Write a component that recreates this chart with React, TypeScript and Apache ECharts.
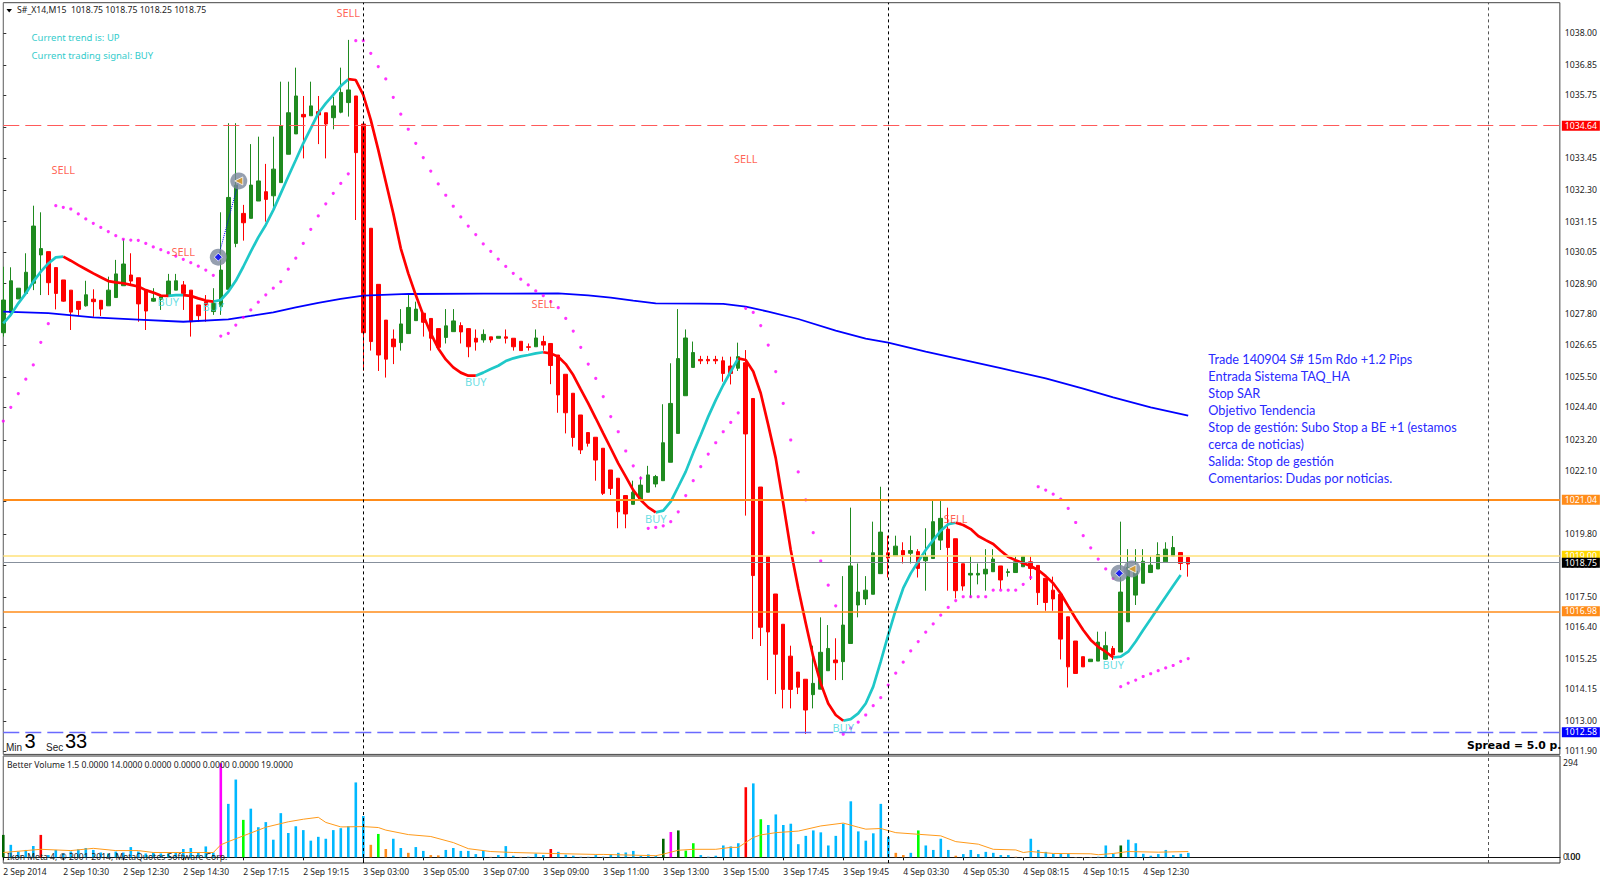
import React, { useEffect, useRef } from "react";
import * as echarts from "echarts";

const opens = [
  1027.11,1027.84,1028.34,1028.54,1028.91,1029.94,1030.06,1029.48,1029.03,1028.66,
  1028.25,1028.09,1028.33,1028.29,1028.09,1028.39,1028.82,1029.21,1029.11,1028.66,
  1028.26,1028.33,1028.48,1028.66,1028.85,1028.66,1028.12,1028.24,1027.88,1028.06,
  1028.69,1030.36,1031.45,1031.27,1031.90,1032.24,1032.09,1032.57,1033.60,1034.34,
  1035.05,1035.00,1035.15,1035.11,1034.93,1035.13,1035.48,1035.72,1034.70,1030.91,
  1028.87,1027.57,1026.88,1026.75,1027.08,1027.55,1027.82,1027.63,1027.26,1026.94,
  1027.15,1027.37,1027.26,1026.91,1026.85,1026.96,1026.91,1026.96,1026.91,1026.80,
  1026.60,1026.60,1026.79,1026.72,1026.30,1025.60,1024.91,1024.12,1023.48,1023.31,
  1022.91,1022.12,1021.82,1021.19,1020.87,1021.05,1021.31,1021.61,1021.73,1022.40,
  1023.45,1024.82,1025.85,1026.14,1026.14,1026.14,1026.09,1025.90,1025.82,1026.02,
  1024.72,1021.50,1018.97,1017.61,1016.51,1015.35,1014.77,1014.51,1013.95,1014.15,
  1014.82,1015.21,1015.15,1015.81,1017.21,1017.43,1017.60,1018.35,1019.11,1019.00,
  1019.19,1019.09,1019.15,1018.82,1018.90,1019.57,1019.97,1019.62,1018.71,1018.30,
  1018.30,1018.34,1018.42,1018.63,1018.39,1018.39,1018.60,1018.78,1018.65,1018.18,
  1017.75,1017.60,1016.78,1015.90,1015.33,1015.15,1015.17,1015.24,1015.63,1015.50,
  1016.60,1017.57,1018.00,1018.39,1018.52,1018.78,1018.99,1019.12,1018.94,
];
const closes = [
  1028.30,1029.00,1028.73,1029.31,1030.99,1030.17,1028.93,1028.54,1028.26,1027.86,
  1027.96,1028.49,1028.24,1027.97,1028.66,1029.25,1029.61,1028.99,1028.16,1027.90,
  1028.36,1028.42,1028.99,1029.00,1028.54,1027.51,1027.73,1028.12,1028.18,1029.39,
  1032.03,1032.48,1031.11,1032.48,1032.63,1031.96,1033.06,1034.63,1035.11,1035.72,
  1034.96,1035.36,1035.03,1034.70,1035.36,1035.85,1035.94,1033.66,1027.11,1026.79,
  1026.30,1026.15,1026.60,1027.43,1028.03,1027.97,1027.49,1026.91,1026.58,1027.36,
  1027.54,1027.14,1026.60,1026.77,1027.05,1026.85,1026.98,1026.91,1026.60,1026.46,
  1026.58,1026.92,1026.66,1025.92,1024.85,1024.20,1023.30,1022.85,1023.09,1022.48,
  1021.27,1021.45,1020.60,1020.52,1021.31,1021.57,1021.94,1021.88,1023.11,1024.54,
  1026.17,1026.92,1026.39,1026.09,1026.09,1026.09,1025.63,1025.63,1026.24,1023.43,
  1018.28,1016.40,1016.23,1015.42,1014.14,1014.14,1014.22,1013.39,1014.36,1015.49,
  1015.63,1015.11,1016.48,1018.63,1017.68,1017.75,1019.11,1019.86,1018.92,1019.35,
  1019.03,1019.19,1018.54,1018.97,1020.24,1020.36,1019.30,1017.73,1017.90,1018.36,
  1018.36,1018.51,1018.88,1018.12,1018.42,1018.78,1018.97,1018.54,1017.66,1017.30,
  1017.43,1015.97,1014.96,1014.72,1014.96,1015.24,1015.86,1015.73,1015.39,1017.68,
  1018.58,1018.44,1018.80,1018.66,1019.04,1019.24,1019.30,1018.72,1018.70,
];
const lows = [
  1026.97,1027.69,1028.34,1028.48,1028.66,1028.48,1028.48,1027.96,1028.24,1027.21,
  1027.72,1028.06,1027.69,1027.72,1028.09,1028.39,1028.82,1028.85,1027.51,1027.21,
  1028.24,1027.94,1028.42,1028.66,1027.94,1026.97,1027.51,1027.51,1027.76,1027.76,
  1028.66,1030.22,1030.46,1031.27,1031.90,1031.15,1031.69,1032.57,1033.60,1034.34,
  1033.45,1035.00,1033.97,1033.45,1034.51,1035.09,1034.97,1031.21,1025.73,1026.46,
  1025.72,1025.48,1025.97,1026.46,1027.08,1027.55,1026.97,1026.46,1026.48,1026.72,
  1027.15,1026.72,1026.22,1026.46,1026.75,1026.75,1026.91,1026.72,1026.46,1026.46,
  1026.46,1026.60,1026.46,1025.24,1024.20,1023.45,1022.97,1022.70,1022.97,1021.73,
  1021.21,1021.21,1020.00,1020.00,1020.87,1021.05,1021.31,1021.49,1021.73,1022.40,
  1023.45,1024.82,1025.85,1025.97,1025.97,1025.97,1025.33,1025.23,1025.72,1020.46,
  1015.97,1015.72,1014.48,1013.97,1013.45,1013.45,1013.97,1012.52,1013.45,1014.15,
  1014.82,1014.48,1014.48,1015.81,1016.76,1017.21,1017.60,1018.35,1018.21,1019.00,
  1018.72,1018.72,1018.21,1017.73,1018.90,1019.21,1017.73,1017.45,1017.73,1017.47,
  1017.96,1017.73,1018.42,1017.78,1018.24,1018.39,1018.60,1018.12,1017.21,1017.00,
  1017.00,1015.23,1014.21,1014.72,1014.96,1015.15,1015.17,1015.21,1015.21,1015.50,
  1016.60,1017.21,1018.00,1018.39,1018.52,1018.78,1018.99,1018.48,1018.24,
];
const highs = [
  1029.51,1029.49,1028.73,1030.00,1031.73,1031.49,1030.06,1029.48,1029.03,1028.66,
  1028.25,1029.00,1028.69,1028.29,1029.15,1029.76,1030.52,1030.00,1029.11,1028.66,
  1028.73,1028.48,1029.25,1029.25,1028.99,1028.66,1028.12,1028.48,1028.73,1031.49,
  1034.73,1034.73,1031.76,1033.97,1034.24,1033.25,1034.24,1036.24,1036.24,1036.75,
  1035.72,1036.24,1035.72,1035.11,1035.69,1036.75,1037.76,1035.72,1034.70,1030.91,
  1028.87,1027.57,1027.23,1027.97,1028.48,1028.24,1027.82,1027.63,1027.26,1027.97,
  1027.97,1027.49,1027.26,1027.23,1027.23,1026.96,1026.98,1027.23,1026.91,1026.80,
  1026.72,1027.23,1027.00,1026.72,1026.30,1025.60,1024.91,1024.12,1023.48,1023.31,
  1022.91,1022.12,1021.82,1021.19,1021.73,1021.88,1022.27,1021.94,1024.51,1026.00,
  1027.97,1027.23,1026.79,1026.27,1026.27,1026.27,1026.24,1026.24,1026.75,1026.48,
  1024.72,1021.50,1018.97,1017.61,1016.51,1015.73,1014.77,1014.51,1015.73,1016.76,
  1016.48,1016.00,1018.26,1020.75,1018.72,1018.26,1020.24,1021.51,1019.73,1019.73,
  1019.49,1019.73,1019.24,1020.00,1020.99,1020.99,1020.75,1019.62,1018.71,1018.97,
  1018.72,1019.24,1019.24,1018.63,1018.53,1018.97,1018.97,1018.97,1018.65,1018.18,
  1018.24,1017.60,1016.78,1015.90,1015.33,1015.24,1016.24,1016.24,1015.72,1020.24,
  1019.24,1019.24,1019.24,1018.97,1019.49,1019.49,1019.72,1019.12,1018.94,
];

const hullValues = [
  1027.45,1027.76,1028.18,1028.54,1028.97,1029.33,1029.63,1029.85,1029.88,1029.73,
  1029.57,1029.42,1029.27,1029.13,1028.99,1028.94,1028.91,1028.85,1028.79,1028.66,
  1028.57,1028.46,1028.45,1028.48,1028.48,1028.45,1028.36,1028.28,1028.24,1028.30,
  1028.60,1029.00,1029.51,1030.06,1030.58,1031.03,1031.57,1032.18,1032.79,1033.39,
  1034.00,1034.54,1035.09,1035.45,1035.76,1036.08,1036.33,1036.30,1035.76,1034.85,
  1033.76,1032.60,1031.45,1030.18,1029.27,1028.48,1027.75,1027.09,1026.54,1026.14,
  1025.85,1025.66,1025.55,1025.55,1025.66,1025.79,1025.91,1026.08,1026.18,1026.25,
  1026.30,1026.36,1026.40,1026.36,1026.24,1025.97,1025.57,1025.05,1024.54,1024.00,
  1023.45,1022.91,1022.36,1021.88,1021.39,1021.03,1020.76,1020.58,1020.64,1020.97,
  1021.51,1022.06,1022.75,1023.39,1024.06,1024.66,1025.21,1025.70,1026.18,1026.12,
  1025.70,1024.91,1023.76,1022.55,1020.91,1019.21,1017.82,1016.55,1015.33,1014.36,
  1013.63,1013.21,1013.00,1013.06,1013.27,1013.63,1014.24,1015.15,1016.12,1017.03,
  1017.82,1018.36,1018.79,1019.21,1019.57,1019.91,1020.15,1020.20,1020.12,1019.97,
  1019.72,1019.57,1019.43,1019.18,1018.96,1018.84,1018.73,1018.63,1018.48,1018.26,
  1018.00,1017.63,1017.17,1016.72,1016.30,1015.94,1015.69,1015.51,1015.30,1015.33,
  1015.51,1015.88,1016.30,1016.70,1017.11,1017.51,1017.91,1018.30,
];
const hullTurns = [8, 22, 24, 28, 46, 63, 72, 87, 98, 112, 127, 148];

const maBars = [0,6,12,18,24,30,33,36,39,42,45,48,54,64,74,78,81,84,87,93,96,99,102,106,111,115,118,123,128,133,139,144,148,153,158];
const maValues = [1027.88,1027.82,1027.67,1027.59,1027.51,1027.60,1027.72,1027.85,1028.03,1028.20,1028.34,1028.46,1028.52,1028.53,1028.54,1028.47,1028.39,1028.28,1028.18,1028.17,1028.16,1028.06,1027.88,1027.61,1027.19,1026.90,1026.75,1026.42,1026.12,1025.82,1025.45,1025.08,1024.76,1024.40,1024.10];

const sarValues = [
  1023.90,1024.40,1024.90,1025.42,1025.94,1026.76,1027.44,
  1031.73,1031.67,1031.61,1031.43,1031.25,1031.09,1030.94,1030.79,1030.64,1030.51,1030.48,1030.47,1030.36,1030.23,1030.13,1030.02,1029.90,1029.78,1029.66,1029.53,1029.39,1029.20,
  1026.99,1027.09,1027.39,1027.67,1027.94,1028.22,1028.49,1028.73,1028.97,1029.42,1029.82,1030.36,1030.87,1031.36,1031.80,1032.18,1032.54,1032.89,
  1037.73,1037.73,1037.27,1036.79,1036.34,1035.67,1035.06,
  1034.51,1034.00,1033.48,1032.99,1032.52,1032.11,1031.71,1031.32,1030.99,1030.68,1030.34,1030.07,1029.79,1029.52,1029.27,1029.06,1028.85,1028.63,1028.46,1028.24,1028.02,1027.63,1027.17,1026.58,1025.97,1025.45,1024.79,1024.06,1023.51,1022.81,1022.27,1021.82,
  1020.00,1020.03,1020.09,1020.24,1020.60,1021.19,1021.73,1022.24,1022.70,1023.11,1023.51,1023.85,1024.20,
  1028.00,1027.85,1027.37,1026.66,1025.70,1024.54,1023.21,1022.05,1021.03,1019.84,1018.81,1017.93,1017.18,
  1012.51,1012.73,1012.95,1013.21,1013.55,1013.84,1014.30,1014.73,1015.13,1015.54,1015.88,1016.22,1016.52,1016.84,1017.12,1017.37,
  1017.51,1017.51,1017.51,1017.51,1017.75,1017.75,1017.75,1017.75,1017.96,1018.21,
  1021.51,1021.39,1021.24,1021.06,1020.72,1020.21,1019.73,1019.29,1018.88,1018.52,1018.18,
  1014.24,1014.37,1014.48,1014.61,1014.71,1014.82,1014.92,1015.01,1015.16,1015.26,
];

const volumes = [
  70,39,18,23,35,70,7,23,12,18,25,29,23,15,12,18,15,32,18,12,
  15,12,12,15,26,29,15,34,15,294,167,243,117,152,94,110,55,138,76,97,
  85,52,64,58,85,91,97,234,129,39,73,26,58,29,14,32,20,7,6,23,
  29,20,20,10,20,2,7,35,5,2,4,12,7,26,17,8,5,3,3,7,
  4,10,14,15,20,4,9,4,58,79,84,21,44,7,4,5,37,34,44,219,
  231,119,101,134,101,105,41,67,84,78,37,67,105,175,81,52,75,167,64,14,
  7,14,84,37,23,58,23,5,10,23,10,17,14,7,7,3,1,58,23,17,
  11,11,11,1,1,1,4,37,11,37,55,44,11,5,10,23,7,11,14,
];
const volumeKinds = [
  "dbbbbrbbbbbbbbbbbbbb",
  "bbbbbbbbbmbbgbbbbbbb",
  "bbbbbbbbbogobbobboob",
  "bbbbbpbbbplbbrbbblla",
  "lbbbbbbbdmdggblbbbbr",
  "bgbbbbbbbbbbbbbbbbbo",
  "obgbbbbobbbbbbbppbbb",
  "bbbpppLbbdbbbbbbbbb",
].join("").replace("a", "b").replace("L", "l");
const volumeColors: Record<string, string> = {
  b: "#00b8ff",
  g: "#00ff00",
  d: "#006400",
  r: "#ff0000",
  m: "#ff00ff",
  o: "#ff8c1a",
  l: "#a9e2ff",
  p: "#ffcfa6",
};
const avgBars = [0,2,5,9,12,15,18,20,23,28,29,30,32,35,38,40,42,43,45,48,50,51,54,57,60,62,65,68,73,79,80,87,88,90,92,95,97,98,100,101,103,106,109,112,114,115,117,119,122,125,127,130,132,135,136,137,140,145,146,148,150,154,158];
const avgValues = [15,19,25,21,28,21,21,15,15,15,39,49,67,94,111,119,125,109,95,96,93,85,71,65,46,27,18,15,12,9,9,5,10,22,25,25,31,31,62,70,77,82,98,107,94,88,90,77,72,67,49,41,25,23,15,18,12,11,8,12,18,16,18];

const timeLabels = ["2 Sep 2014","2 Sep 10:30","2 Sep 12:30","2 Sep 14:30","2 Sep 17:15","2 Sep 19:15","3 Sep 03:00","3 Sep 05:00","3 Sep 07:00","3 Sep 09:00","3 Sep 11:00","3 Sep 13:00","3 Sep 15:00","3 Sep 17:45","3 Sep 19:45","4 Sep 03:30","4 Sep 05:30","4 Sep 08:15","4 Sep 10:15","4 Sep 12:30"];
const priceTicks = [1038.0,1036.85,1035.75,1034.6,1033.45,1032.3,1031.15,1030.05,1028.9,1027.8,1026.65,1025.5,1024.4,1023.2,1022.1,1021.0,1019.8,1018.65,1017.5,1016.4,1015.25,1014.15,1013.0,1011.9];
const volumeTicks = [0, 294];
const sessionBars = [48, 118, 198];
const priceLevels = [
  { value: 1034.64, tag: "#ff0000", line: "#ff5a5a", width: 1.2, dash: [16, 6] },
  { value: 1021.04, tag: "#ff8c1a", line: "#ff8c1a", width: 2, dash: "solid" },
  { value: 1019.0, tag: "#ffd700", line: "#ffe27a", width: 1.5, dash: "solid" },
  { value: 1018.75, tag: "#000000", line: "#87909c", width: 1.2, dash: "solid" },
  { value: 1016.98, tag: "#ff8c1a", line: "#ff8c1a", width: 1.6, dash: "solid" },
  { value: 1012.58, tag: "#0000ff", line: "#6a6aff", width: 1.4, dash: [16, 6] },
];
const sellSignals = [[46,1038.74],[8,1033.06],[24,1030.06],[99,1033.46],[72,1028.16],[127,1020.34]];
const buySignals = [[22,1028.23],[28,1028.05],[63,1025.32],[87,1020.34],[112,1012.77],[148,1015.06]];
const tradeEntries = [[28.67,1029.86],[148.8,1018.36]];
const tradeExits = [[31.4,1032.63],[150.5,1018.52]];
const noteLines = [
  "Trade 140904 S# 15m Rdo +1.2 Pips",
  "Entrada Sistema TAQ_HA",
  "Stop SAR",
  "Objetivo Tendencia",
  "Stop de gestión: Subo Stop a BE +1 (estamos",
  "cerca de noticias)",
  "Salida: Stop de gestión",
  "Comentarios: Dudas por noticias.",
];

const AXIS_FONT = "Noto Sans";

export default function App() {
  const ref = useRef<HTMLDivElement>(null);
  useEffect(() => {
    document.body.style.margin = "0";
    const chart = echarts.init(ref.current!, undefined, { renderer: "svg" });

    const vertical = (color: string) =>
      sessionBars.map((b, k) => ({
        xAxis: b,
        label: { show: false },
        lineStyle: { color: k === 2 ? "#555555" : color, width: 1, type: [3, 3] },
      }));

    const hullSeries = (first: boolean) => {
      const isCyan = (i: number) => {
        let seg = 0;
        while (seg < hullTurns.length && i > hullTurns[seg]) seg++;
        return seg % 2 === 0;
      };
      return hullValues.map((v, i) => {
        let on = isCyan(i) === first;
        if (!on && hullTurns.includes(i)) on = true;
        return [i, on ? v : null];
      });
    };

    const textSeries = (name: string, text: string, pts: number[][], color: string) => ({
      name,
      type: "scatter",
      xAxisIndex: 0,
      yAxisIndex: 0,
      data: pts,
      symbolSize: 1,
      itemStyle: { color: "transparent" },
      z: 8,
      label: {
        show: true,
        position: "inside",
        formatter: text,
        color,
        fontFamily: AXIS_FONT,
        fontSize: 11,
      },
    });

    chart.setOption({
      animation: false,
      backgroundColor: "#ffffff",
      grid: [
        { left: 3.3, top: 2.7, width: 1556.7, height: 751.7, show: true, borderColor: "#444444", borderWidth: 1, backgroundColor: "#ffffff" },
        { left: 3.3, top: 756, width: 1556.7, height: 107, show: true, borderColor: "#333333", borderWidth: 1, backgroundColor: "#ffffff" },
      ],
      xAxis: [
        { type: "value", gridIndex: 0, min: 0, max: 207.56, show: false },
        {
          type: "value",
          gridIndex: 1,
          min: 0,
          max: 207.56,
          splitLine: { show: false },
          axisLine: { show: true, lineStyle: { color: "#111111" } },
          axisTick: { show: true, length: 3, lineStyle: { color: "#111111" }, customValues: timeLabels.map((_, k) => k * 8) },
          axisLabel: {
            customValues: timeLabels.map((_, k) => k * 8),
            formatter: (v: number) => timeLabels[Math.round(v / 8)] ?? "",
            align: "left",
            margin: 4,
            color: "#222222",
            fontFamily: AXIS_FONT,
            fontSize: 8.5,
          },
        },
      ],
      yAxis: [
        {
          type: "value",
          gridIndex: 0,
          position: "right",
          min: 1011.777,
          max: 1039.112,
          splitLine: { show: false },
          axisLine: { show: true, lineStyle: { color: "#808080", width: 1 } },
          axisTick: { show: true, length: 3, lineStyle: { color: "#333333" }, customValues: priceTicks },
          axisLabel: {
            customValues: priceTicks,
            formatter: (v: number) => v.toFixed(2),
            margin: 5,
            color: "#222222",
            fontFamily: AXIS_FONT,
            fontSize: 8.7,
          },
        },
        {
          type: "value",
          gridIndex: 1,
          position: "right",
          min: -17.8,
          max: 316.6,
          splitLine: { show: false },
          axisLine: { show: true, lineStyle: { color: "#808080", width: 1 } },
          axisTick: { show: false },
          axisLabel: {
            customValues: volumeTicks,
            formatter: (v: number) => (v === 0 ? "0.00" : String(v)),
            margin: 3,
            color: "#222222",
            fontFamily: AXIS_FONT,
            fontSize: 8.7,
          },
        },
      ],
      series: [
        {
          name: "Price",
          type: "candlestick",
          xAxisIndex: 0,
          yAxisIndex: 0,
          barWidth: 4,
          z: 2,
          data: opens.map((o, i) => [i, o, closes[i], lows[i], highs[i]]),
          itemStyle: { color: "#1f8a1f", color0: "#ff0000", borderColor: "#1f8a1f", borderColor0: "#ff0000", borderWidth: 1 },
          markLine: {
            silent: true,
            symbol: "none",
            precision: 4,
            z: 7,
            data: [
              ...priceLevels.map((l) => ({
                yAxis: l.value,
                lineStyle: { color: l.line, width: l.width, type: l.dash },
                label: {
                  show: true,
                  position: "end",
                  distance: 2,
                  formatter: l.value.toFixed(2),
                  color: "#ffffff",
                  backgroundColor: l.tag,
                  fontFamily: AXIS_FONT,
                  fontSize: 8.7,
                  width: 35,
                  height: 9,
                  lineHeight: 9,
                  align: "left",
                  padding: [0.5, 0, 0.5, 3],
                },
              })),
              ...vertical("#000000"),
            ],
          },
        },
        {
          name: "MA",
          type: "line",
          xAxisIndex: 0,
          yAxisIndex: 0,
          z: 3,
          symbol: "none",
          data: maBars.map((b, k) => [b, maValues[k]]),
          lineStyle: { color: "#0000ff", width: 1.8 },
        },
        {
          name: "Hull up",
          type: "line",
          xAxisIndex: 0,
          yAxisIndex: 0,
          z: 4,
          symbol: "none",
          data: hullSeries(true),
          lineStyle: { color: "#1fc8c8", width: 2.7 },
        },
        {
          name: "Hull down",
          type: "line",
          xAxisIndex: 0,
          yAxisIndex: 0,
          z: 4,
          symbol: "none",
          data: hullSeries(false),
          lineStyle: { color: "#ff0000", width: 2.7 },
        },
        {
          name: "SAR",
          type: "scatter",
          xAxisIndex: 0,
          yAxisIndex: 0,
          z: 5,
          symbol: "circle",
          symbolSize: 3.2,
          data: sarValues.map((v, i) => [i, v]),
          itemStyle: { color: "#ff00ff" },
        },
        textSeries("Sell", "SELL", sellSignals, "#ff3a2a"),
        textSeries("Buy", "BUY", buySignals, "#45d6dc"),
        {
          name: "Trade path",
          type: "line",
          xAxisIndex: 0,
          yAxisIndex: 0,
          z: 5,
          symbol: "none",
          data: [tradeEntries[0], tradeExits[0]],
          lineStyle: { color: "#0000ff", width: 1, type: "dotted" },
        },
        {
          name: "Trade rings",
          type: "scatter",
          xAxisIndex: 0,
          yAxisIndex: 0,
          z: 9,
          symbol: "circle",
          symbolSize: 17,
          data: [...tradeEntries, ...tradeExits],
          itemStyle: { color: "#7b879b" },
        },
        {
          name: "Entries",
          type: "scatter",
          xAxisIndex: 0,
          yAxisIndex: 0,
          z: 10,
          symbol: "diamond",
          symbolSize: 8,
          data: tradeEntries,
          itemStyle: { color: "#0000ff", borderColor: "#ffffff", borderWidth: 1 },
        },
        {
          name: "Exits",
          type: "scatter",
          xAxisIndex: 0,
          yAxisIndex: 0,
          z: 10,
          symbol: "triangle",
          symbolRotate: 90,
          symbolSize: 8,
          data: tradeExits,
          itemStyle: { color: "#e09a1a", borderColor: "#ffffff", borderWidth: 1 },
        },
        {
          name: "Volume",
          type: "bar",
          xAxisIndex: 1,
          yAxisIndex: 1,
          barWidth: 2.6,
          z: 2,
          data: volumes.map((v, i) => ({
            value: [i, v],
            itemStyle: { color: volumeColors[volumeKinds[i]] ?? volumeColors.b },
          })),
          markLine: {
            silent: true,
            symbol: "none",
            z: 7,
            data: vertical("#000000"),
          },
        },
        {
          name: "Volume average",
          type: "line",
          xAxisIndex: 1,
          yAxisIndex: 1,
          z: 3,
          symbol: "none",
          data: avgBars.map((b, k) => [b, avgValues[k]]),
          lineStyle: { color: "#ff9a1a", width: 1 },
        },
      ],
      graphic: [
        { type: "polygon", silent: true, shape: { points: [[6.5, 9], [12, 9], [9.2, 12.5]] }, style: { fill: "#000000" } },
        { type: "text", silent: true, style: { x: 17, y: 10, text: "S#_X14,M15  1018.75 1018.75 1018.25 1018.75", font: `8.7px '${AXIS_FONT}'`, fill: "#222222", verticalAlign: "middle" } },
        { type: "text", silent: true, style: { x: 31.5, y: 37.5, text: "Current trend is: UP", font: `9.5px '${AXIS_FONT}'`, fill: "#33cccc", verticalAlign: "middle" } },
        { type: "text", silent: true, style: { x: 31.5, y: 55.5, text: "Current trading signal: BUY", font: `9.5px '${AXIS_FONT}'`, fill: "#33cccc", verticalAlign: "middle" } },
        ...noteLines.map((t, k) => ({
          type: "text",
          silent: true,
          z: 20,
          style: { x: 1208.3, y: 359 + k * 17, text: t, font: "12.7px Lato", fill: "#2a2aff", verticalAlign: "middle" },
        })),
        { type: "text", silent: true, z: 20, style: { x: 6, y: 747, text: "Min", font: "10px 'Liberation Sans'", fill: "#222222", verticalAlign: "middle" } },
        { type: "text", silent: true, z: 20, style: { x: 24.5, y: 741, text: "3", font: "20px 'Liberation Sans'", fill: "#000000", verticalAlign: "middle" } },
        { type: "text", silent: true, z: 20, style: { x: 46, y: 747, text: "Sec", font: "10px 'Liberation Sans'", fill: "#222222", verticalAlign: "middle" } },
        { type: "text", silent: true, z: 20, style: { x: 65, y: 741, text: "33", font: "20px 'Liberation Sans'", fill: "#000000", verticalAlign: "middle" } },
        { type: "text", silent: true, z: 20, style: { x: 1467, y: 745, text: "Spread = 5.0 p.", font: "bold 10.8px 'DejaVu Sans'", fill: "#000000", verticalAlign: "middle" } },
        { type: "text", silent: true, z: 20, style: { x: 7, y: 765, text: "Better Volume 1.5 0.0000 14.0000 0.0000 0.0000 0.0000 0.0000 19.0000", font: `8.6px '${AXIS_FONT}'`, fill: "#222222", verticalAlign: "middle" } },
        { type: "text", silent: true, z: 20, style: { x: 7, y: 856.5, text: "Ikon Meta 4, © 2001-2014, MetaQuotes Software Corp.", font: `8.6px '${AXIS_FONT}'`, fill: "#222222", verticalAlign: "middle" } },
        { type: "text", silent: true, z: 20, style: { x: 1565.5, y: 856.8, text: "100", font: `8.7px '${AXIS_FONT}'`, fill: "#222222", verticalAlign: "middle" } },
      ],
    });
    return () => chart.dispose();
  }, []);
  return <div ref={ref} style={{ width: 1600, height: 880 }} />;
}
